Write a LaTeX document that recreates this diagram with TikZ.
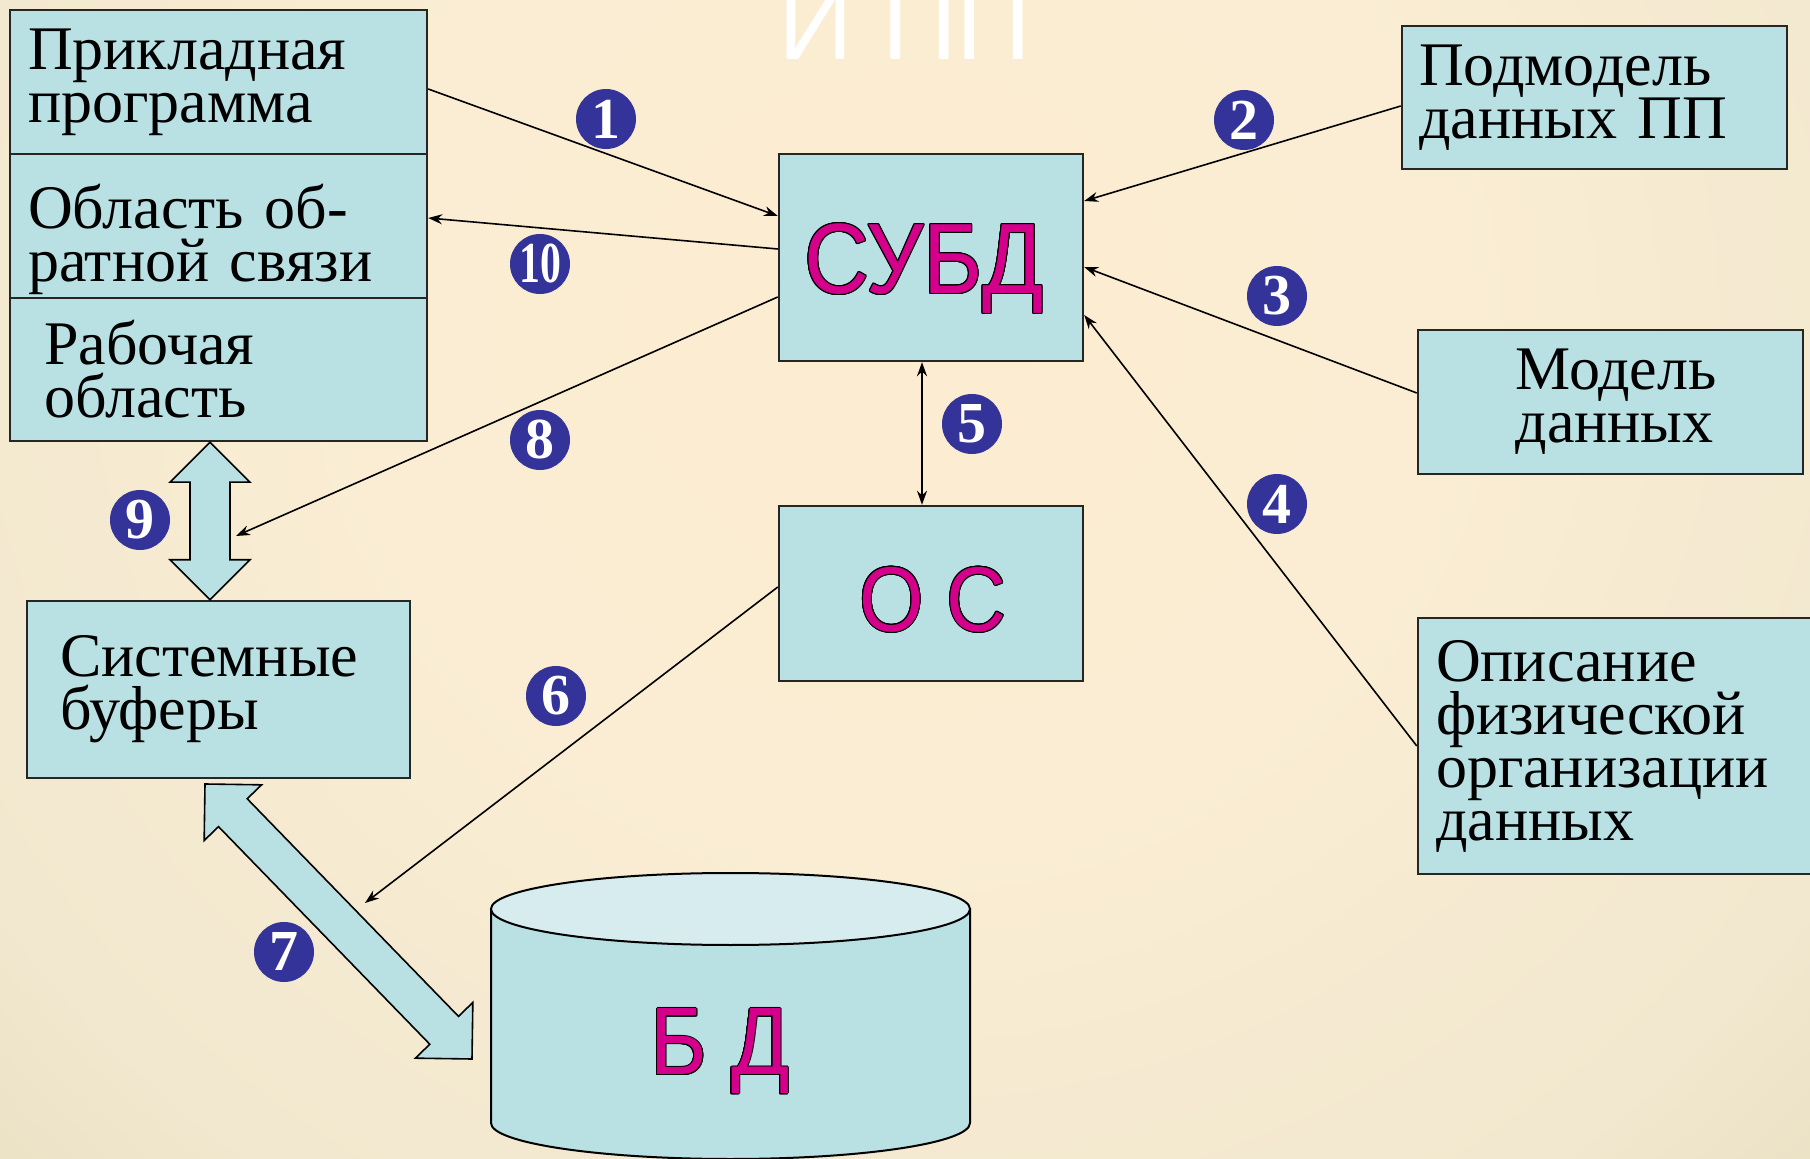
\documentclass[tikz,border=0pt]{standalone}
\usepackage{fontspec}
\setmainfont{Liberation Serif}
\newfontfamily\arialfont{Liberation Sans}
\newfontfamily\arialnarrow[FakeStretch=0.9]{Liberation Sans}
\usepackage{contour}
\contourlength{0.5pt}
\usetikzlibrary{calc,arrows.meta}

\definecolor{boxblue}{HTML}{B9E0E3}
\definecolor{toplight}{HTML}{D6ECEF}
\definecolor{numblue}{HTML}{333399}
\definecolor{dbpink}{HTML}{D4008C}
\definecolor{bgA}{HTML}{FCECD1}
\definecolor{bgB}{HTML}{FAEDD3}
\definecolor{bgC}{HTML}{F1E8CF}
\definecolor{bgD}{HTML}{E4D8B8}
\definecolor{bgE}{HTML}{D7C8A2}
\definecolor{bgF}{HTML}{CDBD96}
\pgfdeclareradialshading{slidebg}{\pgfpoint{0bp}{0bp}}{color(0bp)=(bgA); color(15bp)=(bgB); color(30bp)=(bgC); color(42bp)=(bgD); color(50bp)=(bgE); color(72bp)=(bgF)}

\tikzset{
  box/.style={draw=black!85, line width=1.2pt, fill=boxblue, rectangle, inner sep=0pt,
    align=left, font=\fontsize{31pt}{26.5pt}\selectfont},
  bigword/.style={font=\arialnarrow\fontsize{48pt}{48pt}\selectfont, text=dbpink, inner sep=0pt},
  numdot/.style={circle, fill=numblue, text=white, inner sep=0pt, minimum size=30pt,
    font=\fontsize{29pt}{29pt}\selectfont\bfseries},
  link/.style={line width=0.8pt, -{Stealth[length=7pt,width=5pt]}},
  blockarrow/.style={draw=black, line width=0.8pt, fill=boxblue},
}

\begin{document}
\begin{tikzpicture}[x=0.5pt,y=-0.5pt]
    % define variables.
    \def\dblarrow#1#2{%
      \filldraw[blockarrow] (#1)
        -- ($(#1)!20pt!(#2)!20pt!90:(#2)$) -- ($(#1)!20pt!(#2)!10pt!90:(#2)$)
        -- ($(#2)!20pt!(#1)!10pt!-90:(#1)$) -- ($(#2)!20pt!(#1)!20pt!-90:(#1)$)
        -- (#2)
        -- ($(#2)!20pt!(#1)!20pt!90:(#1)$) -- ($(#2)!20pt!(#1)!10pt!90:(#1)$)
        -- ($(#1)!20pt!(#2)!10pt!-90:(#2)$) -- ($(#1)!20pt!(#2)!20pt!-90:(#2)$)
        -- cycle;}
    % the background
    \useasboundingbox (0,0) rectangle (1810,1159);
    \shade[shading=slidebg] (0,-525) rectangle (1810,1185);
    \node[font=\arialfont\fontsize{52pt}{52pt}\selectfont, text=white, anchor=base] (title) at (905,60) {И ПП};
    % draw the boxes
    \node[box, minimum width=208.5pt, minimum height=72pt, text width=190.5pt] (prog) at (218.5,82) {Прикладная\\программа};
    \node[box, minimum width=208.5pt, minimum height=72pt, text width=190.5pt] (fb) at (218.5,226) {\rule{0pt}{36pt}Область об-\\ратной связи};
    \node[box, minimum width=208.5pt, minimum height=71.5pt, text width=174.5pt] (work) at (218.5,369.5) {Рабочая\\область};
    \node[box, minimum width=191.5pt, minimum height=88.5pt, text width=158.5pt] (buf) at (218.5,689.5) {Системные\\буферы};
    \node[box, minimum width=152pt, minimum height=103.5pt] (subd) at (931,257.5) {};
    \node[box, minimum width=152pt, minimum height=87.5pt] (os) at (931,593.5) {};
    \node[box, minimum width=192.5pt, minimum height=71.5pt, text width=175.5pt] (submodel) at (1594.5,97.5) {Подмодель\\данных ПП};
    \node[box, minimum width=192.5pt, minimum height=72pt, text width=95pt] (model) at (1610.5,402) {\mbox{Модель}\\\mbox{данных}};
    \node[box, minimum width=206pt, minimum height=128pt, text width=188pt] (phys) at (1624,746) {Описание\\физической\\организации\\данных};
    \node[bigword, font=\arialnarrow\fontsize{50pt}{50pt}\selectfont] (subdtext) at (924,269) {\contour{black}{СУБД}};
    \node[bigword, font=\arialnarrow\fontsize{46pt}{46pt}\selectfont] (ostext) at (933,600) {\contour{black}{О С}};
    % the data base
    \filldraw[fill=boxblue, line width=1pt] (491,909) -- (491,1123) arc[start angle=180, end angle=0, x radius=239.5, y radius=36] -- (970,909) -- cycle;
    \filldraw[fill=toplight, line width=1pt] (730.5,909) ellipse[x radius=239.5, y radius=36];
    \node[bigword] (db) at (720,1052) {\contour{black}{Б Д}};
    % draw the edges
    \coordinate (c8) at (236,536);
    \coordinate (c6) at (365,903);
    \draw[link] ([yshift=-3.5pt]prog.east) -- ([yshift=20.75pt]subd.west);
    \draw[link] ([yshift=4.25pt]subd.west) -- ([yshift=4pt]fb.east);
    \draw[link] ([yshift=-19.75pt]subd.west) -- (c8);
    \draw[link] ([yshift=-4.25pt]submodel.west) -- ([yshift=28.25pt]subd.east);
    \draw[link] ([yshift=4.5pt]model.west) -- ([yshift=-4.75pt]subd.east);
    \draw[link] (phys.west) -- ([yshift=-28.75pt]subd.east);
    \draw[link, {Stealth[length=7pt,width=5pt]}-{Stealth[length=7pt,width=5pt]}] ([xshift=-4.5pt]subd.south) -- ([xshift=-4.5pt]os.north);
    \draw[link] ([yshift=3.25pt]os.west) -- (c6);
    % the wide arrows
    \coordinate (b9a) at ([xshift=-4.25pt]work.south);
    \coordinate (b9b) at ([xshift=-4.25pt]buf.north);
    \coordinate (b7a) at (205,784);
    \coordinate (b7b) at (472,1059);
    \dblarrow{b9a}{b9b}
    \dblarrow{b7a}{b7b}
    % the numbers
    \node[numdot] (n1) at (606,119) {1};
    \node[numdot] (n2) at (1244,120) {2};
    \node[numdot] (n3) at (1277,296) {3};
    \node[numdot] (n4) at (1277,504) {4};
    \node[numdot] (n5) at (972,424) {5};
    \node[numdot] (n6) at (556,696) {6};
    \node[numdot] (n7) at (284,952) {7};
    \node[numdot] (n8) at (540,440) {8};
    \node[numdot] (n9) at (140,520) {9};
    \node[numdot] (n10) at (540,264) {\scalebox{0.72}[1]{10}};
\end{tikzpicture}
\end{document}
